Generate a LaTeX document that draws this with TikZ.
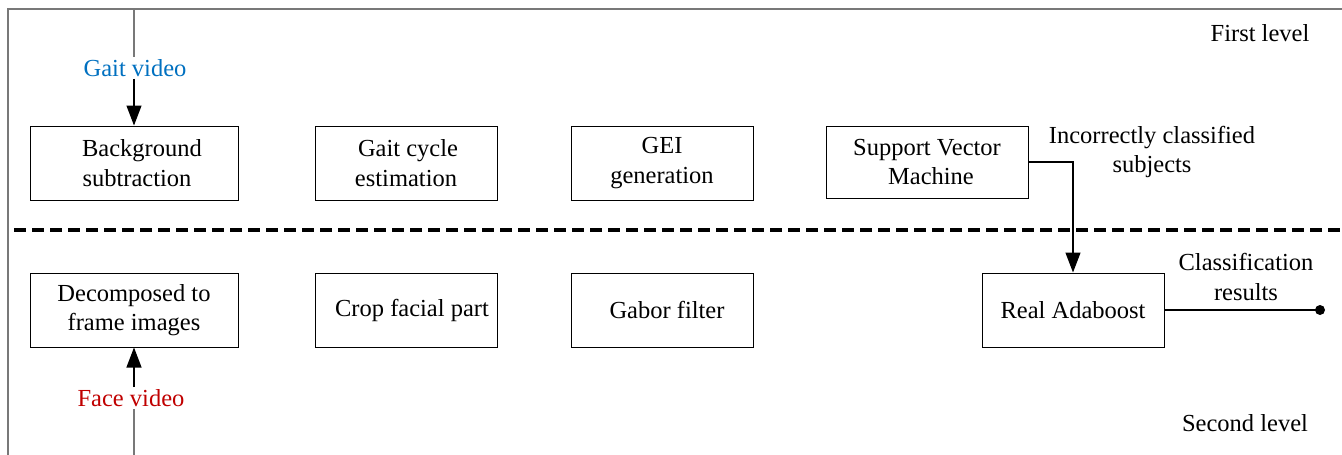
\documentclass[tikz,border=0pt]{standalone}
\usepackage{fontspec}
\setmainfont{Liberation Serif}
\usetikzlibrary{arrows.meta}
\definecolor{gaitblue}{RGB}{0,112,192}
\definecolor{facered}{RGB}{192,0,0}
\definecolor{framegray}{RGB}{120,120,120}
\begin{document}
\begin{tikzpicture}[x=1pt,y=-1pt,
  every node/.style={font=\fontsize{24.5}{29.5}\selectfont, align=center},
  box/.style={draw, line width=1pt, minimum height=74pt, inner sep=0pt},
  lbl/.style={inner sep=2pt},
  flow/.style={line width=1.2pt, -{Triangle[length=20pt,width=15pt]}},
  feed/.style={line width=1.5pt, framegray}]
\useasboundingbox (0,0) rectangle (1342,455);

% frame of the two levels
\draw[feed] (8,455) -- (8,9) -- (1342,9);
\draw[line width=4pt, dash pattern=on 12pt off 6pt] (14,230) -- (1342,230);

% first level
\node[box, minimum width=208pt] (bg)   at (134,163) {\hspace*{16pt}Background\\\hspace*{6pt}subtraction};
\node[box, minimum width=182pt] (gc)   at (406,163) {\hspace*{4pt}Gait cycle\\estimation};
\node[box, minimum width=182pt] (gei)  at (662,163) {GEI\\generation};
\node[box, minimum width=202pt, minimum height=72pt] (svm) at (927,162) {Support Vector\\\hspace*{8pt}Machine};

% second level
\node[box, minimum width=208pt] (dec)  at (134,310) {Decomposed to\\frame images};
\node[box, minimum width=182pt] (crop) at (406,310) {\hspace*{12pt}Crop facial part};
\node[box, minimum width=182pt] (gab)  at (662,310) {\hspace*{10pt}Gabor filter};
\node[box, minimum width=182pt] (ada)  at (1073,310) {Real Adaboost};

% inputs
\node[lbl, text=gaitblue] (gv) at (135,68) {Gait video};
\coordinate (gtop) at (bg.north |- 0,9);
\draw[feed] (gtop) -- (gtop |- gv.north);
\draw[flow] (gv.south -| bg.north) -- (bg.north);

\node[lbl, text=facered] (fv) at (131,398) {Face video};
\coordinate (fbot) at (dec.south |- 0,455);
\draw[feed] (fbot) -- (fbot |- fv.south);
\draw[flow] (fv.north -| dec.south) -- (dec.south);

% second-level feedback and output
\draw[flow] (svm.east) -| (ada.north);
\node (inc) at (1152,152) {Incorrectly classified\\subjects};

\coordinate (out) at (ada.east -| 1320,0);
\draw[line width=1.2pt] (ada.east) -- (out);
\fill (out) circle (5pt);
\node (res) at (1246,277) {Classification\\results};

% level captions
\node (first)  at (1260,33)  {First level};
\node (second) at (1245,423) {Second level};
\end{tikzpicture}
\end{document}
